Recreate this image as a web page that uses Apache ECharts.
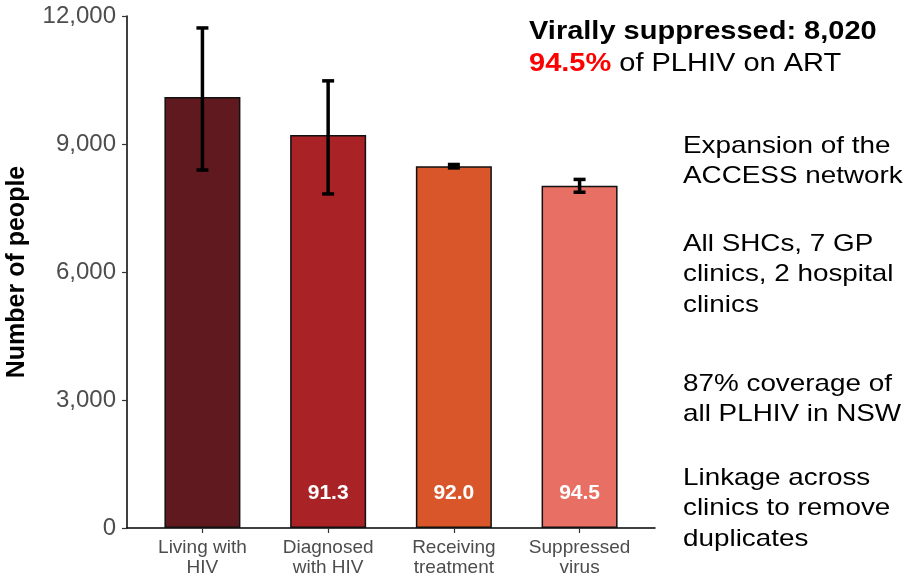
<!DOCTYPE html>
<html>
<head>
<meta charset="utf-8">
<script src="https://cdn.jsdelivr.net/npm/echarts@6/dist/echarts.min.js"></script>
<style>
  html, body { margin: 0; padding: 0; background: #fff; }
  #chart { width: 912px; height: 579px; }
</style>
</head>
<body>
<div id="chart"></div>
<script>
  // cascade data
  var categories = ['Living with\nHIV', 'Diagnosed\nwith HIV', 'Receiving\ntreatment', 'Suppressed\nvirus'];
  var positions = [1, 2, 3, 4];
  var counts = [10100, 9210, 8480, 8020];
  var errLow = [8390, 7830, 8440, 7870];
  var errHigh = [11720, 10480, 8520, 8170];
  var pctLabels = ['', '91.3', '92.0', '94.5'];
  var barColors = ['#601a1f', '#a92225', '#d9562a', '#e86f63'];

  // side notes
  var headline = 'Virally suppressed: 8,020';
  var subline = '{red|94.5%} of PLHIV on ART';
  var notes = [
    'Expansion of the\nACCESS network',
    'All SHCs, 7 GP\nclinics, 2 hospital\nclinics',
    '87% coverage of\nall PLHIV in NSW',
    'Linkage across\nclinics to remove\nduplicates'
  ];
  var noteTops = [131, 229, 369, 463];

  var FONT = 'Liberation Sans, Arial, sans-serif';
  var STRETCH = 1.16; // source text is drawn a bit wide

  var chart = echarts.init(document.getElementById('chart'), null, { renderer: 'canvas' });

  var barData = positions.map(function (p, i) {
    return { value: [p, counts[i]], itemStyle: { color: barColors[i] } };
  });
  var errData = positions.map(function (p, i) {
    return [p, errLow[i], errHigh[i]];
  });

  var graphics = [
    {
      type: 'text', x: 529, y: 32, scaleX: STRETCH,
      style: { text: headline, fontFamily: FONT, fontWeight: 'bold', fontSize: 25, fill: '#000', verticalAlign: 'middle' }
    },
    {
      type: 'text', x: 529, y: 64, scaleX: STRETCH,
      style: {
        text: subline, fontFamily: FONT, fontSize: 25, fill: '#000', verticalAlign: 'middle',
        rich: { red: { fill: '#ff0000', fontWeight: 'bold', fontFamily: FONT, fontSize: 25 } }
      }
    }
  ];
  notes.forEach(function (t, i) {
    graphics.push({
      type: 'text', x: 683, y: noteTops[i], scaleX: STRETCH,
      style: { text: t, fontFamily: FONT, fontSize: 24, lineHeight: 30.5, fill: '#000', verticalAlign: 'top' }
    });
  });

  chart.setOption({
    backgroundColor: '#ffffff',
    animation: false,
    grid: { left: 127, right: 257, top: 16, bottom: 51, containLabel: false, outerBoundsMode: 'none' },
    xAxis: {
      type: 'value',
      min: 0.4,
      max: 4.6,
      splitLine: { show: false },
      axisLine: { show: true, lineStyle: { color: '#000', width: 1.5 } },
      axisTick: { show: true, customValues: positions, length: 5, lineStyle: { color: '#333', width: 1.2 } },
      axisLabel: {
        customValues: positions,
        formatter: function (v) { return categories[Math.round(v) - 1]; },
        color: '#4d4d4d',
        fontFamily: FONT,
        fontSize: 19,
        lineHeight: 20,
        margin: 10
      }
    },
    yAxis: {
      type: 'value',
      min: 0,
      max: 12000,
      interval: 3000,
      name: 'Number of people',
      nameLocation: 'middle',
      nameGap: 97,
      nameTextStyle: { color: '#000', fontFamily: FONT, fontWeight: 'bold', fontSize: 25 },
      splitLine: { show: false },
      axisLine: { show: true, lineStyle: { color: '#000', width: 1.5 } },
      axisTick: { show: true, length: 5, lineStyle: { color: '#333', width: 1.2 } },
      axisLabel: {
        formatter: function (v) { return v.toLocaleString('en-US'); },
        color: '#4d4d4d',
        fontFamily: FONT,
        fontSize: 24,
        margin: 11
      }
    },
    series: [
      {
        type: 'bar',
        barWidth: 76,
        data: barData,
        itemStyle: { borderColor: '#111', borderWidth: 1.5 },
        label: {
          show: true,
          position: 'insideBottom',
          distance: 24,
          formatter: function (p) { return pctLabels[p.dataIndex]; },
          color: '#fff',
          fontFamily: FONT,
          fontWeight: 'bold',
          fontSize: 21
        }
      },
      {
        type: 'custom',
        data: errData,
        z: 5,
        renderItem: function (params, api) {
          var x = api.value(0);
          var lo = api.coord([x, api.value(1)]);
          var hi = api.coord([x, api.value(2)]);
          var hw = 6;
          var st = { stroke: '#000', lineWidth: 3.5 };
          return {
            type: 'group',
            children: [
              { type: 'line', shape: { x1: lo[0], y1: lo[1], x2: hi[0], y2: hi[1] }, style: st },
              { type: 'line', shape: { x1: hi[0] - hw, y1: hi[1], x2: hi[0] + hw, y2: hi[1] }, style: st },
              { type: 'line', shape: { x1: lo[0] - hw, y1: lo[1], x2: lo[0] + hw, y2: lo[1] }, style: st }
            ]
          };
        }
      }
    ],
    graphic: graphics
  });
</script>
</body>
</html>
